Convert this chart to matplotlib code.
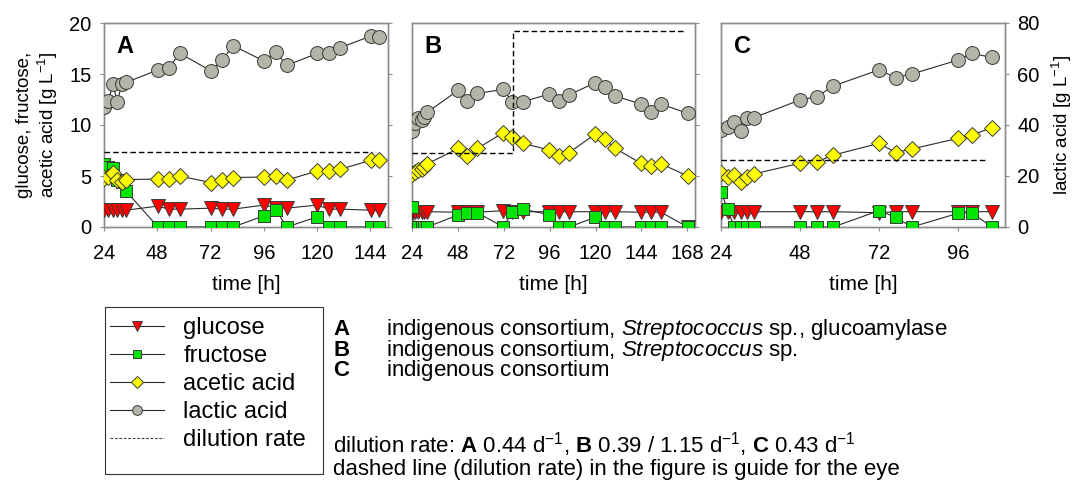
import matplotlib
matplotlib.use("Agg")
import matplotlib.pyplot as plt
from matplotlib.lines import Line2D
from matplotlib.patches import Rectangle

plt.rcParams["font.family"] = ["Liberation Sans", "DejaVu Sans"]
plt.rcParams["mathtext.fontset"] = "custom"
plt.rcParams["mathtext.rm"] = "Liberation Sans"
plt.rcParams["mathtext.it"] = "Liberation Sans:italic"
plt.rcParams["mathtext.bf"] = "Liberation Sans:bold"

# ---------------- data (concentrations in g/L, time in h) ----------------
time_A = [24, 26, 28, 30, 32, 34, 48.3, 53.1, 58.1, 72.3, 77.2, 82.2,
          96.1, 101.4, 106.4, 120.2, 125.2, 130.3, 144.4, 148]
glucose_A = [1.65, 1.65, 1.65, 1.65, 1.65, 1.65, 2.05, 1.75, 1.75, 1.85, 1.75, 1.75,
             2.15, 1.9, 1.85, 2.15, 1.75, 1.75, 1.65, 1.65]
fructose_A = [6.2, 5.9, 5.8, 4.6, 4.4, 3.5, 0, 0, 0, 0, 0, 0,
              1.1, 1.7, 0, 1.0, 0, 0, 0, 0]
acetic_A = [4.8, 4.95, 5.25, 4.6, 4.45, 4.65, 4.7, 4.7, 5.0, 4.35, 4.6, 4.85,
            4.9, 5.0, 4.6, 5.5, 5.5, 5.65, 6.55, 6.55]
lactic_A = [46.9, 49.5, 56.0, 49.1, 56.0, 56.7, 61.6, 62.2, 68.1, 61.2, 65.5, 71.1,
            65.1, 68.5, 63.4, 68.1, 68.4, 70.3, 74.9, 74.6]
dil_time_A = [24, 145]
dil_level_A = [7.4, 7.4]

time_B = [24, 25.5, 27, 29, 30.5, 32, 48.3, 53, 58.2, 71.8, 76.5, 82,
          95.9, 101, 106.2, 119.8, 125, 130.3, 143.7, 149, 154.2, 168.1]
glucose_B = [1.5, 1.5, 1.5, 1.5, 1.5, 1.5, 1.45, 1.45, 1.45, 1.6, 1.5, 1.5,
             1.5, 1.5, 1.5, 1.5, 1.5, 1.5, 1.45, 1.45, 1.45, 0.0]
fructose_B = [2.0, 0, 0, 0, 0, 0, 1.2, 1.4, 1.4, 0, 1.5, 1.75,
              1.2, 0, 0, 0.95, 0, 0, 0, 0, 0, 0]
acetic_B = [5.2, 5.4, 5.6, 5.7, 5.9, 6.2, 7.7, 6.95, 7.7, 9.25, 8.8, 8.2,
            7.55, 7.0, 7.3, 9.1, 8.6, 7.7, 6.25, 6.0, 6.2, 5.0]
lactic_B = [37.6, 40.9, 42.6, 42.0, 43.3, 45.0, 53.7, 49.4, 52.4, 54.0, 48.9, 49.1,
            52.2, 49.5, 51.8, 56.6, 54.8, 51.4, 48.2, 45.0, 48.2, 44.6]
dil_time_B = [24, 77, 77, 167.5]
dil_level_B = [7.3, 7.3, 19.2, 19.2]

time_C = [24, 26, 28, 30, 32, 34, 48, 53.1, 58.1, 72, 77.1, 82, 96.1, 100.2, 106.3]
glucose_C = [1.5, 1.5, 1.5, 1.5, 1.5, 1.5, 1.5, 1.5, 1.5, 1.4, 1.5, 1.5, 1.5, 1.5, 1.5]
fructose_C = [3.45, 1.75, 0, 0, 0, 0, 0, 0, 0, 1.6, 0.95, 0, 1.35, 1.4, 0]
acetic_C = [5.25, 4.95, 5.05, 4.45, 4.95, 5.2, 6.25, 6.4, 7.05, 8.2, 7.3, 7.65, 8.7, 9.0, 9.75]
lactic_C = [38.0, 39.1, 41.3, 37.8, 42.6, 42.9, 49.8, 51.1, 55.3, 61.6, 58.6, 60.0,
            65.5, 68.1, 66.5]
dil_time_C = [24, 105]
dil_level_C = [6.55, 6.55]

panel_letters = ["A", "B", "C"]
x_limits = [(24, 152), (24, 172), (24, 110.3)]
x_ticks = [[24, 48, 72, 96, 120, 144], [24, 48, 72, 96, 120, 144, 168], [24, 48, 72, 96]]
left_ticks = [0, 5, 10, 15, 20]
right_ticks = [0, 20, 40, 60, 80]

series_labels = ["glucose", "fructose", "acetic acid", "lactic acid", "dilution rate"]
note_texts = [r"indigenous consortium, $\it{Streptococcus}$ sp., glucoamylase",
              r"indigenous consortium, $\it{Streptococcus}$ sp.",
              "indigenous consortium"]

panels = [
    (time_A, glucose_A, fructose_A, acetic_A, lactic_A, dil_time_A, dil_level_A),
    (time_B, glucose_B, fructose_B, acetic_B, lactic_B, dil_time_B, dil_level_B),
    (time_C, glucose_C, fructose_C, acetic_C, lactic_C, dil_time_C, dil_level_C),
]

# ---------------- styles ----------------
TICK_FS = 14.5
LABEL_FS = 15
SPINE = "#8c8c8c"
LINE = "#2a2a2a"
EDGE = "#3a3a3a"
styles = {
    "glucose": dict(marker="v", color="#ff0000", ms=10),
    "fructose": dict(marker="s", color="#00e600", ms=8.5),
    "acetic": dict(marker="D", color="#ffff00", ms=8.5),
    "lactic": dict(marker="o", color="#b4b4a8", ms=10),
}

fig = plt.figure(figsize=(10.8, 4.84), dpi=100)
W, H = 1080.0, 484.0
lefts = [104, 412, 721]
widths = [284, 283, 284]
top_px, bottom_px = 23, 227


def series(ax, t, y, key, scale=1.0):
    st = styles[key]
    ax.plot(t, [v * scale for v in y], "-", color=LINE, lw=0.8, marker=st["marker"],
            ms=st["ms"], mfc=st["color"], mec=EDGE, mew=0.7, zorder=3)


for i, (t, glu, fru, ace, lac, dt, dl) in enumerate(panels):
    ax = fig.add_axes([lefts[i] / W, 1 - bottom_px / H, widths[i] / W,
                       (bottom_px - top_px) / H])
    ax2 = ax.twinx()
    ax.set_zorder(ax2.get_zorder() + 1)
    ax.patch.set_visible(False)

    series(ax, t, glu, "glucose")
    series(ax, t, fru, "fructose")
    series(ax, t, ace, "acetic")
    # lactic acid belongs to the right-hand axis (0-80 = 4 x left scale)
    series(ax, t, lac, "lactic", scale=0.25)
    ax.plot(dt, dl, color="black", lw=1.0, dashes=(4, 2.2), zorder=4)

    ax.set_xlim(*x_limits[i])
    ax.set_ylim(0, 20)
    ax2.set_ylim(0, 80)
    ax.set_xticks(x_ticks[i])
    ax.set_yticks(left_ticks)
    ax2.set_yticks(right_ticks)

    for a in (ax, ax2):
        for s in a.spines.values():
            s.set_color(SPINE)
            s.set_linewidth(1.0)
    ax.tick_params(axis="x", direction="out", length=3, color=SPINE,
                   labelsize=TICK_FS, pad=9)
    ax.tick_params(axis="y", direction="out", length=3, color=SPINE,
                   labelsize=TICK_FS, left=(i == 0), labelleft=(i == 0), pad=6)
    ax2.tick_params(axis="y", direction="out", length=3, color=SPINE,
                    labelsize=TICK_FS, right=True, labelright=(i == 2), pad=6)

    ax.set_xlabel("time [h]", fontsize=LABEL_FS, labelpad=9)
    ax.text(0.045, 0.885, panel_letters[i], transform=ax.transAxes,
            fontsize=17, fontweight="bold", va="center", ha="left")

    if i == 0:
        ax.set_ylabel("glucose, fructose,\nacetic acid [g L$^{-1}$]",
                      fontsize=13.5, labelpad=7, linespacing=1.15)
    if i == 2:
        ax2.set_ylabel("lactic acid [g L$^{-1}$]", fontsize=13.5, labelpad=7)

# ---------------- legend ----------------
handles = []
for key in ["glucose", "fructose", "acetic", "lactic"]:
    st = styles[key]
    handles.append(Line2D([], [], color=LINE, lw=0.8, marker=st["marker"],
                          ms=st["ms"] * 0.7, mfc=st["color"], mec=EDGE, mew=0.7))
handles.append(Line2D([], [], color="#444444", lw=0.8, dashes=(2.5, 1.5)))

fig.patches.append(Rectangle((105 / W, 1 - 474 / H), 218 / W, 167 / H,
                             transform=fig.transFigure, fill=False,
                             edgecolor="#333333", lw=0.8))
fig.legend(handles, series_labels, loc="upper left",
           bbox_to_anchor=(110 / W, 1 - 317 / H), fontsize=17,
           frameon=False, borderaxespad=0, borderpad=0, labelspacing=0.255,
           handlelength=2.3, handletextpad=0.8)

# ---------------- notes ----------------
TS = 16
GAP = "      "
note_block = "\n".join(r"$\mathbf{%s}$%s%s" % (letter, GAP, desc)
                       for letter, desc in zip(panel_letters, note_texts))
fig.text(333 / W, 1 - 317 / H, note_block, fontsize=TS,
         va="top", ha="left", linespacing=0.76)

fig.text(333 / W, 1 - 430 / H,
         r"dilution rate: $\mathbf{A}$ 0.44 d$^{-1}$, $\mathbf{B}$ 0.39 / 1.15 d$^{-1}$, "
         r"$\mathbf{C}$ 0.43 d$^{-1}$" "\n"
         "dashed line (dilution rate) in the figure is guide for the eye",
         fontsize=TS, va="top", ha="left", linespacing=1.0)

fig.savefig("out.png", dpi=100)
